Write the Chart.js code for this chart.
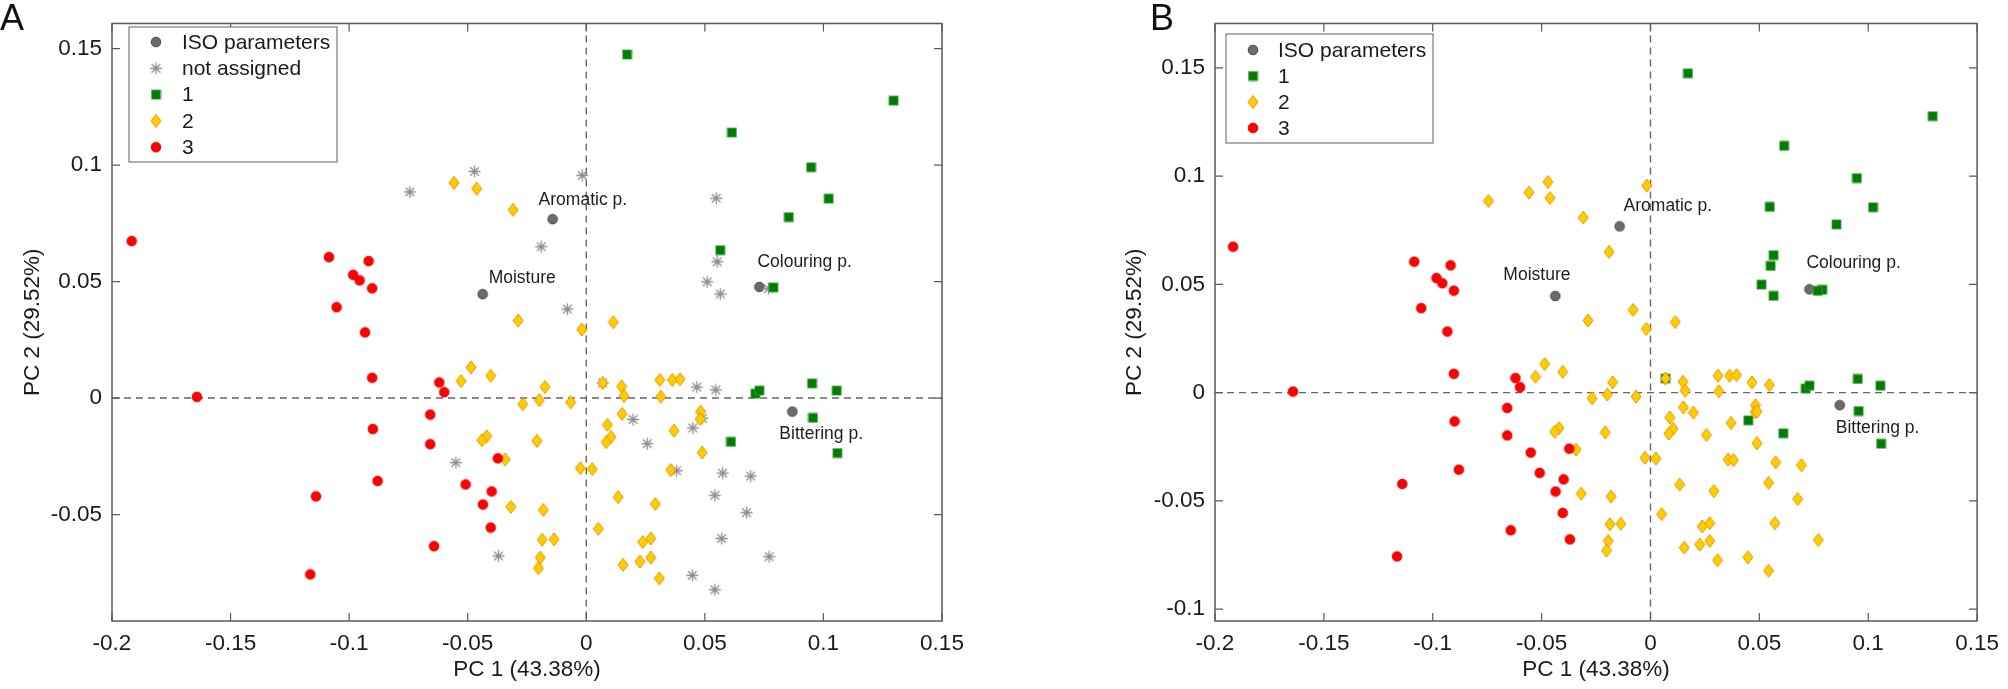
<!DOCTYPE html>
<html>
<head>
<meta charset="utf-8">
<script src="https://cdn.jsdelivr.net/npm/chart.js@4.4.1/dist/chart.umd.min.js"></script>
<style>
  html, body { margin: 0; padding: 0; background: #fff; }
  #wrap { position: relative; width: 2008px; height: 689px; overflow: hidden; }
  #wrap canvas { position: absolute; top: 0; }
  #chartA { left: 0; }
  #chartB { left: 1000px; }
</style>
</head>
<body>
<div id="wrap">
  <canvas id="chartA" width="1000" height="689" style="width:1000px;height:689px"></canvas>
  <canvas id="chartB" width="1008" height="689" style="width:1008px;height:689px"></canvas>
</div>
<script>
const FONT = "'Liberation Sans', Arial, Helvetica, sans-serif";

// axis ticks
const xTicks = [-0.2, -0.15, -0.1, -0.05, 0, 0.05, 0.1, 0.15];
const yTicksA = [-0.05, 0, 0.05, 0.1, 0.15];
const yTicksB = [-0.1, -0.05, 0, 0.05, 0.1, 0.15];

// ISO parameters
const isoNames = ['Aromatic p.', 'Moisture', 'Colouring p.', 'Bittering p.'];
const isoX = [-0.0142, -0.0437, 0.0730, 0.0869];
const isoY = [0.0768, 0.0446, 0.0477, -0.0058];

// panel A clusters
const cluster1 = [
  [0.0172, 0.1475], [0.1296, 0.1277], [0.0614, 0.1140], [0.0948, 0.0991], [0.1022, 0.0856],
  [0.0854, 0.0777], [0.0565, 0.0635], [0.0789, 0.0475], [0.0713, 0.0019], [0.0730, 0.0032],
  [0.0952, 0.0063], [0.1056, 0.0032], [0.0956, -0.0085], [0.0610, -0.0188], [0.1059, -0.0236]
];
const cluster2 = [
  [-0.0558, 0.0924], [-0.0462, 0.0899], [-0.0309, 0.0808], [-0.0287, 0.0333], [-0.0019, 0.0294],
  [0.0114, 0.0326], [-0.0486, 0.0132], [-0.0528, 0.0073], [-0.0403, 0.0096], [-0.0174, 0.0047],
  [-0.0268, -0.0026], [-0.0198, -0.0009], [-0.0066, -0.0018], [0.0069, 0.0065], [0.0149, 0.0050],
  [0.0159, 0.0009], [0.0310, 0.0078], [0.0363, 0.0078], [0.0395, 0.0081], [0.0314, 0.0006],
  [0.0482, -0.0058], [0.0480, -0.0090], [0.0151, -0.0068], [0.0089, -0.0115], [0.0370, -0.0140],
  [0.0104, -0.0167], [0.0084, -0.0189], [-0.0420, -0.0164], [-0.0440, -0.0181], [-0.0208, -0.0184],
  [-0.0342, -0.0263], [-0.0025, -0.0301], [0.0025, -0.0305], [0.0489, -0.0234], [0.0356, -0.0309],
  [0.0134, -0.0425], [0.0291, -0.0455], [-0.0318, -0.0467], [-0.0181, -0.0480], [0.0051, -0.0561],
  [-0.0186, -0.0608], [-0.0136, -0.0606], [0.0238, -0.0618], [0.0272, -0.0603], [-0.0194, -0.0685],
  [-0.0202, -0.0730], [0.0155, -0.0716], [0.0226, -0.0702], [0.0272, -0.0685], [0.0308, -0.0774]
];
const cluster3 = [
  [-0.1917, 0.0674], [-0.1085, 0.0605], [-0.0918, 0.0588], [-0.0983, 0.0529], [-0.0956, 0.0505],
  [-0.0903, 0.0471], [-0.1053, 0.0390], [-0.0933, 0.0282], [-0.0903, 0.0087], [-0.1642, 0.0005],
  [-0.0620, 0.0067], [-0.0599, 0.0025], [-0.0658, -0.0071], [-0.0900, -0.0133], [-0.0658, -0.0198],
  [-0.0880, -0.0356], [-0.1140, -0.0422], [-0.0509, -0.0371], [-0.0399, -0.0401], [-0.0436, -0.0457],
  [-0.0403, -0.0556], [-0.0642, -0.0636], [-0.1164, -0.0757], [-0.0373, -0.0259]
];
const notAssigned = [
  [-0.0744, 0.0885], [-0.0471, 0.0973], [-0.0017, 0.0956], [-0.0190, 0.0650], [-0.0080, 0.0382],
  [0.0548, 0.0858], [0.0552, 0.0585], [0.0510, 0.0499], [0.0565, 0.0447], [0.0768, 0.0470],
  [-0.0550, -0.0277], [-0.0370, -0.0678], [0.0069, 0.0065], [0.0466, 0.0047], [0.0546, 0.0035],
  [0.0197, -0.0092], [0.0449, -0.0128], [0.0489, -0.0087], [0.0257, -0.0196], [0.0381, -0.0312],
  [0.0575, -0.0322], [0.0693, -0.0335], [0.0542, -0.0417], [0.0676, -0.0492], [0.0571, -0.0603],
  [0.0771, -0.0681], [0.0447, -0.0761], [0.0542, -0.0823]
];
// cluster given to each not-assigned sample in panel B
const notAssignedInB = [
  2, 2, 2, 2, 2,
  1, 1, 1, 1, 1,
  3, 3, 1, 2, 2,
  2, 1, 2, 2, 2,
  2, 2, 2, 2, 2,
  2, 2, 2
];

// markers
function makeMarker(w, h, draw) {
  const c = document.createElement('canvas');
  c.width = w; c.height = h;
  draw(c.getContext('2d'), w / 2, h / 2);
  return c;
}
const isoMarker = makeMarker(12, 12, (g, cx, cy) => {
  g.beginPath(); g.arc(cx, cy, 4.8, 0, Math.PI * 2);
  g.fillStyle = '#6b6b6b'; g.fill();
  g.lineWidth = 1; g.strokeStyle = '#474747'; g.stroke();
});
const starMarker = makeMarker(15, 15, (g, cx, cy) => {
  g.strokeStyle = '#8e8e8e'; g.lineWidth = 1.3;
  g.beginPath();
  g.moveTo(cx - 6, cy); g.lineTo(cx + 6, cy);
  g.moveTo(cx, cy - 6); g.lineTo(cx, cy + 6);
  g.moveTo(cx - 4.3, cy - 4.3); g.lineTo(cx + 4.3, cy + 4.3);
  g.moveTo(cx - 4.3, cy + 4.3); g.lineTo(cx + 4.3, cy - 4.3);
  g.stroke();
});
const squareMarker = makeMarker(11, 11, (g) => {
  g.fillStyle = '#007d00'; g.fillRect(1, 1, 9, 9);
  g.strokeStyle = '#3a9e3a'; g.lineWidth = 0.8; g.strokeRect(1, 1, 9, 9);
});
const diamondMarker = makeMarker(12, 15, (g, cx, cy) => {
  g.beginPath();
  g.moveTo(cx, 1); g.lineTo(11, cy); g.lineTo(cx, 14); g.lineTo(1, cy); g.closePath();
  g.fillStyle = '#ffcc00'; g.fill();
  g.strokeStyle = '#e39400'; g.lineWidth = 1; g.stroke();
});
const redMarker = makeMarker(12, 12, (g, cx, cy) => {
  g.beginPath(); g.arc(cx, cy, 4.9, 0, Math.PI * 2);
  g.fillStyle = '#ff0000'; g.fill();
  g.lineWidth = 0.8; g.strokeStyle = '#e20000'; g.stroke();
});

const isoPoints = isoX.map((x, i) => [x, isoY[i]]);
const fromB = k => notAssigned.filter((p, i) => notAssignedInB[i] === k);

const fmt = v => String(Math.round(v * 100) / 100);

const frame = {
  id: 'frame',
  beforeDatasetsDraw(chart) {
    const {ctx, chartArea: a, scales: {x, y}} = chart;
    const x0 = x.getPixelForValue(0), y0 = y.getPixelForValue(0);
    ctx.save();
    ctx.strokeStyle = '#666'; ctx.lineWidth = 1.4; ctx.setLineDash([7, 5]);
    ctx.beginPath();
    ctx.moveTo(x0, a.top); ctx.lineTo(x0, a.bottom);
    ctx.moveTo(a.left, y0); ctx.lineTo(a.right, y0);
    ctx.stroke();
    ctx.restore();
  },
  afterDatasetsDraw(chart, args, o) {
    const {ctx, chartArea: a, scales: {x, y}} = chart;
    ctx.save();
    // box and inward ticks
    ctx.strokeStyle = '#5a5a5a'; ctx.lineWidth = 1.5;
    ctx.strokeRect(a.left, a.top, a.right - a.left, a.bottom - a.top);
    ctx.lineWidth = 1.2;
    ctx.beginPath();
    xTicks.forEach(v => {
      const px = x.getPixelForValue(v);
      ctx.moveTo(px, a.bottom); ctx.lineTo(px, a.bottom - 8);
      ctx.moveTo(px, a.top); ctx.lineTo(px, a.top + 8);
    });
    o.yTicks.forEach(v => {
      const py = y.getPixelForValue(v);
      ctx.moveTo(a.left, py); ctx.lineTo(a.left + 8, py);
      ctx.moveTo(a.right, py); ctx.lineTo(a.right - 8, py);
    });
    ctx.stroke();

    // ISO labels
    ctx.fillStyle = '#1e1e1e';
    ctx.font = '17.5px ' + FONT;
    ctx.textAlign = 'left'; ctx.textBaseline = 'middle';
    isoNames.forEach((name, i) => {
      const px = x.getPixelForValue(isoX[i]), py = y.getPixelForValue(isoY[i]);
      ctx.fillText(name, px + o.labelOffsets[i][0], py + o.labelOffsets[i][1]);
    });

    // legend
    const L = o.legend;
    ctx.fillStyle = '#fff';
    ctx.fillRect(L.x, L.y, L.w, L.h);
    ctx.strokeStyle = '#7a7a7a'; ctx.lineWidth = 1.2;
    ctx.strokeRect(L.x, L.y, L.w, L.h);
    ctx.font = '21px ' + FONT;
    ctx.fillStyle = '#1a1a1a';
    L.items.forEach((it, i) => {
      const cy = L.y + L.first + i * L.row;
      const m = it.marker;
      ctx.drawImage(m, L.x + L.markX - m.width / 2, cy - m.height / 2);
      ctx.fillText(it.label, L.x + L.textX, cy + 1);
    });

    // panel letter
    ctx.font = '36px ' + FONT;
    ctx.textBaseline = 'alphabetic';
    ctx.fillStyle = '#111';
    ctx.fillText(o.letter, o.letterX, 29.5);
    ctx.restore();
  }
};

function makeChart(id, cfg) {
  const ds = cfg.series.map(s => ({
    label: s.label,
    data: s.points.map(p => ({x: p[0], y: p[1]})),
    pointStyle: s.marker,
    pointRadius: 5,
    pointHoverRadius: 5
  })).reverse();
  return new Chart(document.getElementById(id), {
    type: 'scatter',
    data: { datasets: ds },
    options: {
      responsive: false,
      animation: false,
      events: [],
      layout: { padding: cfg.padding },
      plugins: {
        legend: { display: false },
        tooltip: { enabled: false },
        frame: cfg.frame
      },
      scales: {
        x: {
          type: 'linear', min: -0.2, max: 0.15,
          grid: { display: false, drawTicks: false },
          border: { display: false },
          afterBuildTicks: s => { s.ticks = xTicks.map(v => ({value: v})); },
          afterFit: s => { s.height = 68; },
          ticks: { padding: 9, color: '#1a1a1a', font: {family: FONT, size: 22.5}, callback: fmt, maxRotation: 0, autoSkip: false },
          title: { display: true, text: 'PC 1 (43.38%)', color: '#1a1a1a', font: {family: FONT, size: 22.5}, padding: {top: 0, bottom: 5.5} }
        },
        y: {
          type: 'linear', min: cfg.yMin, max: cfg.yMax,
          grid: { display: false, drawTicks: false },
          border: { display: false },
          afterBuildTicks: s => { s.ticks = cfg.frame.yTicks.map(v => ({value: v})); },
          afterFit: s => { s.width = cfg.yWidth; },
          ticks: { padding: 10, color: '#1a1a1a', font: {family: FONT, size: 22.5}, callback: fmt, autoSkip: false },
          title: { display: true, text: 'PC 2 (29.52%)', color: '#1a1a1a', font: {family: FONT, size: 22.5}, padding: {top: cfg.yTitlePad, bottom: 0} }
        }
      }
    },
    plugins: [frame]
  });
}

makeChart('chartA', {
  padding: {left: 0, top: 14, right: 58, bottom: 0},
  yMin: -0.0957, yMax: 0.1608, yWidth: 112, yTitlePad: 19.5,
  series: [
    {label: 'ISO parameters', points: isoPoints, marker: isoMarker},
    {label: 'not assigned', points: notAssigned, marker: starMarker},
    {label: '1', points: cluster1, marker: squareMarker},
    {label: '2', points: cluster2, marker: diamondMarker},
    {label: '3', points: cluster3, marker: redMarker}
  ],
  frame: {
    yTicks: yTicksA,
    letter: 'A', letterX: 0,
    labelOffsets: [[-14, -19], [6, -16], [-2, -25], [-13, 23]],
    legend: {
      x: 129, y: 27, w: 208, h: 135, first: 15, row: 26.3, markX: 27, textX: 53,
      items: [
        {label: 'ISO parameters', marker: isoMarker},
        {label: 'not assigned', marker: starMarker},
        {label: '1', marker: squareMarker},
        {label: '2', marker: diamondMarker},
        {label: '3', marker: redMarker}
      ]
    }
  }
});

makeChart('chartB', {
  padding: {left: 0, top: 14, right: 25, bottom: 0},
  yMin: -0.1055, yMax: 0.1705, yWidth: 215, yTitlePad: 121.5,
  series: [
    {label: 'ISO parameters', points: isoPoints, marker: isoMarker},
    {label: '1', points: cluster1.concat(fromB(1)), marker: squareMarker},
    {label: '2', points: cluster2.concat(fromB(2)), marker: diamondMarker},
    {label: '3', points: cluster3.concat(fromB(3)), marker: redMarker}
  ],
  frame: {
    yTicks: yTicksB,
    letter: 'B', letterX: 150,
    labelOffsets: [[4, -20], [-52, -21], [-3, -26], [-4, 23]],
    legend: {
      x: 226, y: 34, w: 207, h: 109, first: 16, row: 26, markX: 27, textX: 52,
      items: [
        {label: 'ISO parameters', marker: isoMarker},
        {label: '1', marker: squareMarker},
        {label: '2', marker: diamondMarker},
        {label: '3', marker: redMarker}
      ]
    }
  }
});
</script>
</body>
</html>
